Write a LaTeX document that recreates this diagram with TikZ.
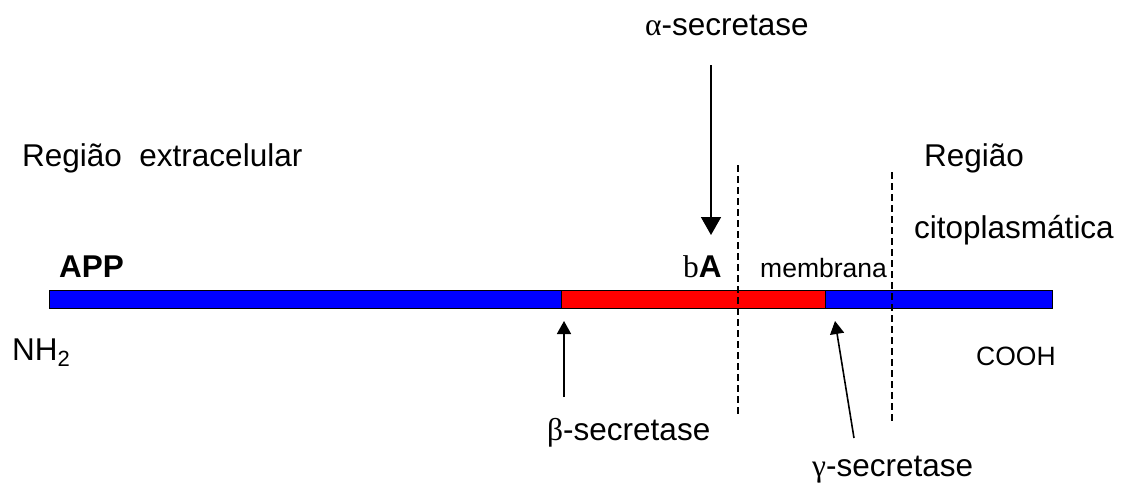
\documentclass[tikz,border=0pt]{standalone}
\usepackage{fontspec}
\setmainfont{Liberation Sans}
\newfontfamily\grk{Liberation Serif}
\usetikzlibrary{arrows.meta}
\definecolor{appblue}{RGB}{0,0,255}
\definecolor{abred}{RGB}{255,0,0}
\tikzset{
  lbl/.style={inner sep=0pt, anchor=base west, font=\fontsize{31.5}{38}\selectfont},
  small/.style={inner sep=0pt, anchor=base west, font=\fontsize{26.5}{32}\selectfont},
  seg/.style={draw=black, line width=0.8pt},
  membline/.style={line width=1.3pt, dash pattern=on 7pt off 4pt},
  bigarrow/.style={line width=1.6pt, -{Triangle[length=18pt,width=20pt]}},
  smallarrow/.style={line width=1.6pt, -{Triangle[length=13pt,width=14pt]}}
}
\begin{document}
\begin{tikzpicture}[x=1pt,y=-1pt]
\useasboundingbox (0,0) rectangle (1128,488);
% bar
\path[seg, fill=appblue] (49,290) rectangle (1052,308);
\path[seg, fill=abred] (561,290) rectangle (825,308);
% membrane boundaries
\coordinate (m1t) at (738,165); \coordinate (m1b) at (738,416);
\coordinate (m2t) at (892,172); \coordinate (m2b) at (892,421);
\draw[membline] (m1t) -- (m1b);
\draw[membline] (m2t) -- (m2b);
% labels
\node[lbl] (alpha) at (645,35) {{\grk α}-secretase};
\node[lbl] (extra) at (22,166) {Região~~extracelular};
\node[lbl] (regc) at (924,166) {Região};
\node[lbl] (cito) at (914,238) {citoplasmática};
\node[lbl] (app) at (59,277) {\bfseries APP};
\node[lbl] (ba) at (683,277) {{\grk b}\textbf{A}};
\node[small] (memb) at (760,277) {membrana};
\node[lbl] (nh) at (12,360) {NH\raisebox{-0.2em}{\fontsize{22}{24}\selectfont 2}};
\node[small] (cooh) at (976,365) {COOH};
\node[lbl] (beta) at (547,440) {{\grk β}-secretase};
\node[lbl] (gamma) at (812,476) {{\grk γ}-secretase};
% arrows
\coordinate (aS) at (711,65); \coordinate (aE) at (711,235);
\coordinate (bS) at (564,397); \coordinate (bE) at (564,321);
\coordinate (gS) at (854,438); \coordinate (gE) at (835,321);
\draw[bigarrow] (aS) -- (aE);
\draw[smallarrow] (bS) -- (bE);
\draw[smallarrow] (gS) -- (gE);
\end{tikzpicture}
\end{document}
